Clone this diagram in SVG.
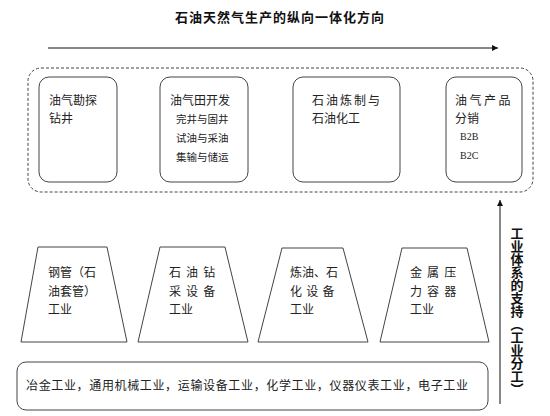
<svg xmlns="http://www.w3.org/2000/svg" width="550" height="416" viewBox="0 0 550 416">
<defs>
<marker id="ah" viewBox="0 0 10 10" refX="10" refY="5" markerWidth="7" markerHeight="6" markerUnits="userSpaceOnUse" orient="auto">
<path d="M0,0 L10,5 L0,10 z" fill="#111"/>
</marker>
<style>
.t{font-family:"Noto Sans CJK SC","Noto Sans",sans-serif;font-size:12px;fill:#222}
.s{font-family:"Noto Sans CJK SC","Noto Sans",sans-serif;font-size:10.5px;fill:#222}
.b{font-family:"Liberation Serif","Noto Sans CJK SC",serif;font-size:10px;fill:#222}
.bold{font-family:"Noto Sans CJK SC","Noto Sans",sans-serif;font-size:13px;font-weight:bold;fill:#111}
.box{fill:#fff;stroke:#444;stroke-width:1}
.line{stroke:#111;stroke-width:1;fill:none}
</style>
</defs>
<rect width="550" height="416" fill="#fff"/>
<text class="bold" x="280" y="21.5" text-anchor="middle" letter-spacing="1">石油天然气生产的纵向一体化方向</text>
<g id="connectors">
<line class="line" x1="48" y1="48" x2="498" y2="48" marker-end="url(#ah)"/>
<line class="line" x1="500" y1="404" x2="500" y2="200" marker-end="url(#ah)"/>
</g>
<g id="chain">
<rect x="28" y="68" width="505" height="124" rx="13" fill="none" stroke="#444" stroke-width="1" stroke-dasharray="3,2"/>
</g>
<g id="n1">
<rect class="box" x="39" y="77" width="78" height="105" rx="10"/>
<text class="t" x="49" y="105">油气勘探</text>
<text class="t" x="49" y="123">钻井</text>
</g>
<g id="n2">
<rect class="box" x="160" y="77" width="88" height="105" rx="10"/>
<text class="t" x="170" y="105">油气田开发</text>
<text class="s" x="176" y="123">完井与固井</text>
<text class="s" x="176" y="142">试油与采油</text>
<text class="s" x="176" y="161">集输与储运</text>
</g>
<g id="n3">
<rect class="box" x="293" y="77" width="107" height="105" rx="10"/>
<text class="t" x="312" y="105" letter-spacing="2">石油炼制与</text>
<text class="t" x="312" y="123">石油化工</text>
</g>
<g id="n4">
<rect class="box" x="446" y="77" width="76" height="105" rx="10"/>
<text class="t" x="455" y="105" letter-spacing="2.5">油气产品</text>
<text class="t" x="455" y="123">分销</text>
<text class="b" x="460" y="140">B2B</text>
<text class="b" x="460" y="159">B2C</text>
</g>
<g id="p1">
<polygon class="box" points="38,247 107,247 127,342 21,342"/>
<text class="t" x="48" y="277">钢管（石</text>
<text class="t" x="48" y="296">油套管）</text>
<text class="t" x="48" y="314">工业</text>
</g>
<g id="p2">
<polygon class="box" points="160,247 225,247 248,342 138,342"/>
<text class="t" x="169" y="277" letter-spacing="1.2">石 油 钻</text>
<text class="t" x="169" y="296" letter-spacing="1.2">采 设 备</text>
<text class="t" x="169" y="314">工业</text>
</g>
<g id="p3">
<polygon class="box" points="282,248 343,248 368,342 258,342"/>
<text class="t" x="290" y="277">炼油、石</text>
<text class="t" x="290" y="296" letter-spacing="0.8">化 设 备</text>
<text class="t" x="290" y="314">工业</text>
</g>
<g id="p4">
<polygon class="box" points="402,248 467,248 489,342 380,342"/>
<text class="t" x="410" y="277" letter-spacing="1.2">金 属 压</text>
<text class="t" x="410" y="296" letter-spacing="1.2">力 容 器</text>
<text class="t" x="410" y="314">工业</text>
</g>
<g id="base">
<rect class="box" x="17" y="362" width="471" height="48" rx="9"/>
<text class="t" x="26" y="390" textLength="442" lengthAdjust="spacing">冶金工业，通用机械工业，运输设备工业，化学工业，仪器仪表工业，电子工业</text>
</g>
<g id="side">
<text class="bold" x="517" y="227" style="writing-mode:vertical-rl" font-size="12" letter-spacing="0">工业体系的支持（工业分工）</text>
</g>
</svg>
